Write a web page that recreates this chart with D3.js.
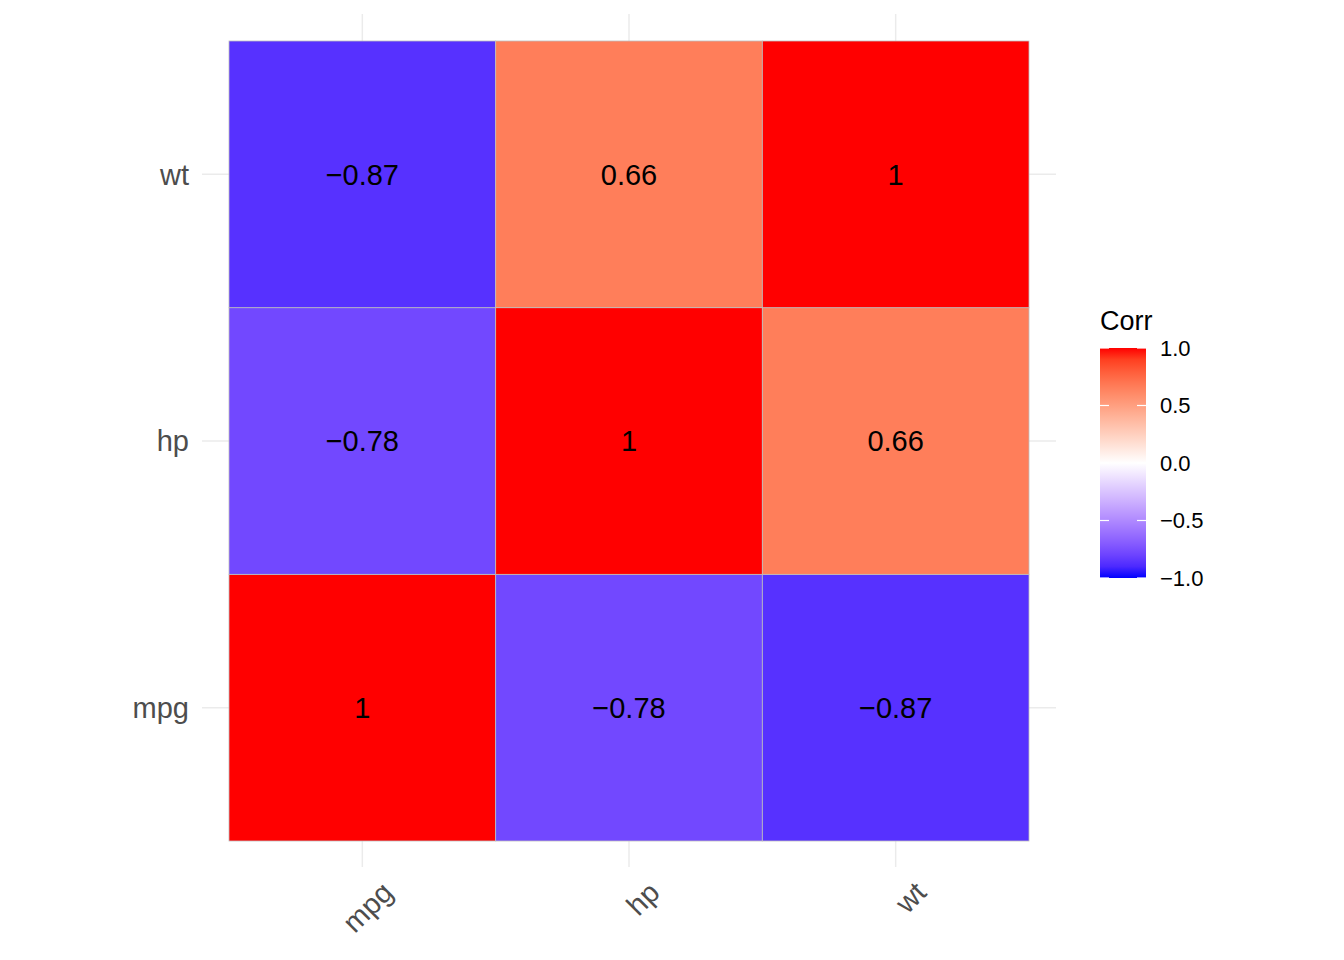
<!DOCTYPE html>
<html><head><meta charset="utf-8">
<script src="https://cdn.jsdelivr.net/npm/d3@7"></script>
<style>body{margin:0;background:#fff}text{font-family:Arial,"Liberation Sans",sans-serif}</style>
</head><body>
<script>
// variables and the correlation matrix (row = y variable, col = x variable)
const vars = ["mpg", "hp", "wt"];
const corr = [
  [1, -0.78, -0.87],
  [-0.78, 1, 0.66],
  [-0.87, 0.66, 1]
];
const legendTicks = [-1.0, -0.5, 0.0, 0.5, 1.0];

const W = 1344, H = 960;
const svg = d3.select("body").append("svg").attr("width", W).attr("height", H);

const x = d3.scaleBand().domain(vars).range([229, 1029]);
const y = d3.scaleBand().domain(vars).range([841, 41]);

const color = v => v >= 0 ? d3.interpolateLab("#FFFFFF", "#FF0000")(v) : d3.interpolateLab("#FFFFFF", "#0000FF")(-v);

// grid
const g = svg.append("g");
vars.forEach(v => {
  const cx = x(v) + x.bandwidth() / 2, cy = y(v) + y.bandwidth() / 2;
  g.append("line").attr("x1", cx).attr("x2", cx).attr("y1", 14).attr("y2", 867).attr("stroke", "#EBEBEB").attr("stroke-width", 1.5);
  g.append("line").attr("y1", cy).attr("y2", cy).attr("x1", 202).attr("x2", 1056).attr("stroke", "#EBEBEB").attr("stroke-width", 1.5);
});

const cells = [];
vars.forEach((yv, i) => vars.forEach((xv, j) => cells.push({xv, yv, v: corr[i][j]})));

svg.append("g").selectAll("rect").data(cells).join("rect")
  .attr("x", d => x(d.xv)).attr("y", d => y(d.yv))
  .attr("width", x.bandwidth()).attr("height", y.bandwidth())
  .attr("fill", d => color(d.v)).attr("stroke", "#BEBEBE").attr("stroke-width", 0.8);

svg.append("g").selectAll("text").data(cells).join("text")
  .attr("x", d => x(d.xv) + x.bandwidth() / 2).attr("y", d => y(d.yv) + y.bandwidth() / 2)
  .attr("dy", "0.36em").attr("text-anchor", "middle").attr("font-size", 29).attr("fill", "#000")
  .text(d => d3.format("")(d.v));

// axes labels
svg.append("g").selectAll("text").data(vars).join("text")
  .attr("x", 189).attr("y", d => y(d) + y.bandwidth() / 2).attr("dy", "0.36em")
  .attr("text-anchor", "end").attr("font-size", 29).attr("fill", "#4D4D4D").text(d => d);
svg.append("g").selectAll("text").data(vars).join("text")
  .attr("transform", d => `translate(${x(d) + x.bandwidth() / 2 + 18},${880}) rotate(-45)`)
  .attr("text-anchor", "end").attr("dy", "0.7em").attr("font-size", 29).attr("fill", "#4D4D4D").text(d => d);

// legend
const lx = 1100, lw = 46;
const ly = d3.scaleLinear().domain([-1, 1]).range([578, 348]);
const defs = svg.append("defs");
const grad = defs.append("linearGradient").attr("id", "lg").attr("x1", 0).attr("x2", 0).attr("y1", 1).attr("y2", 0);
d3.range(0, 1.0001, 0.05).forEach(t => grad.append("stop").attr("offset", t).attr("stop-color", color(t * 2 - 1)));
svg.append("rect").attr("x", lx).attr("y", ly(1)).attr("width", lw).attr("height", ly(-1) - ly(1)).attr("fill", "url(#lg)");
legendTicks.forEach(t => {
  svg.append("line").attr("x1", lx).attr("x2", lx + 9).attr("y1", ly(t)).attr("y2", ly(t)).attr("stroke", "#fff").attr("stroke-width", 1.2);
  svg.append("line").attr("x1", lx + lw - 9).attr("x2", lx + lw).attr("y1", ly(t)).attr("y2", ly(t)).attr("stroke", "#fff").attr("stroke-width", 1.2);
  svg.append("text").attr("x", 1160).attr("y", ly(t)).attr("dy", "0.36em").attr("font-size", 22).attr("fill", "#000").text(d3.format(".1f")(t));
});
svg.append("text").attr("x", 1100).attr("y", 330).attr("font-size", 27).attr("fill", "#000").text("Corr");
</script>
</body></html>
